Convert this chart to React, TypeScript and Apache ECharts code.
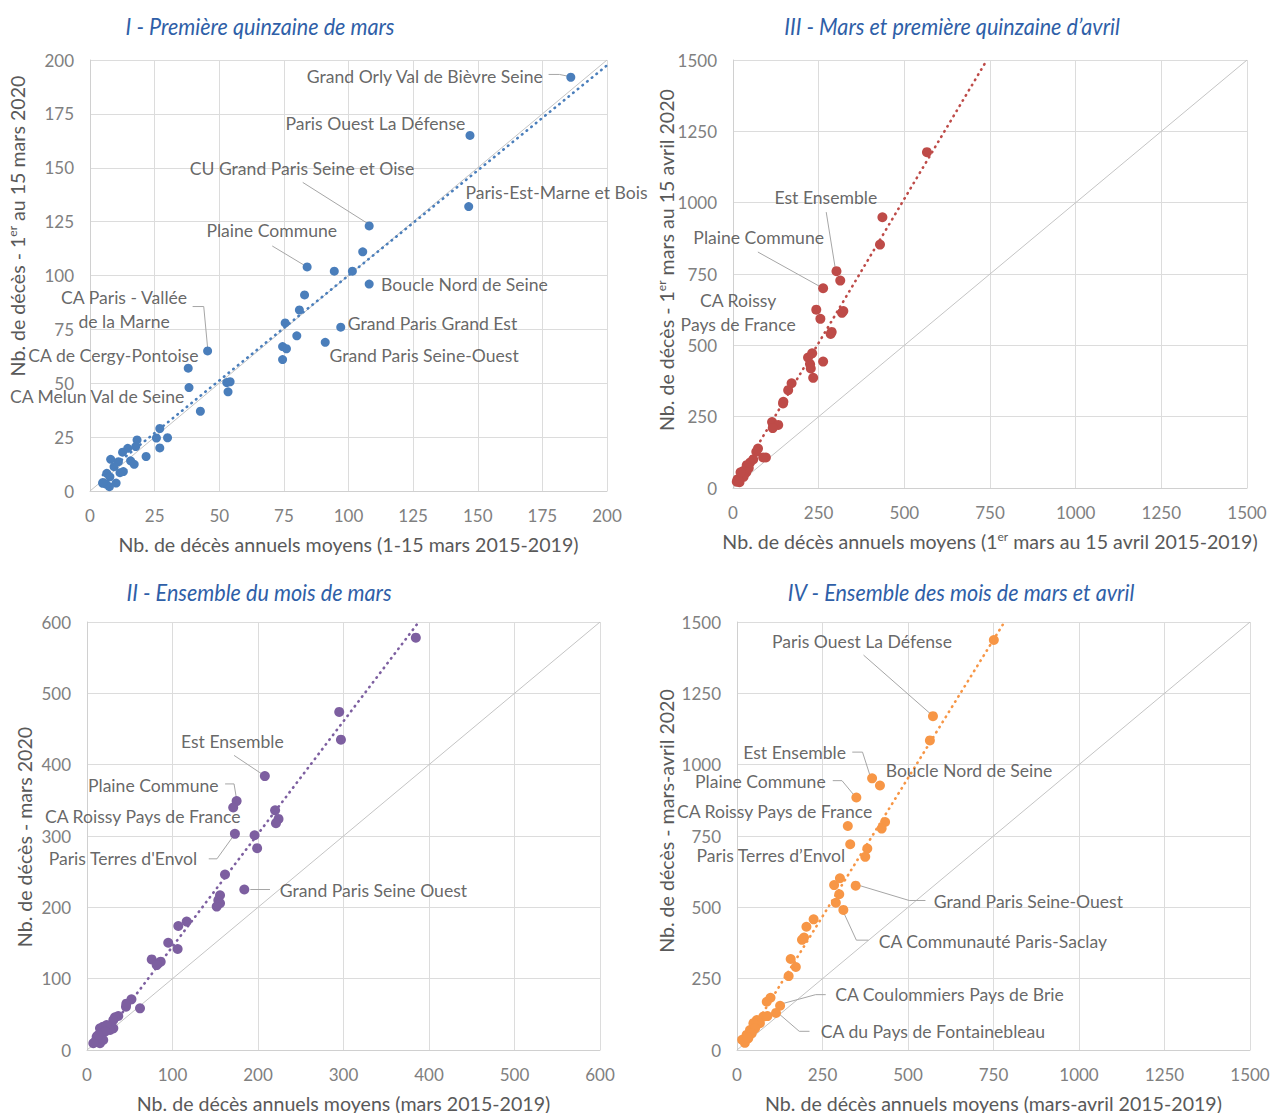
import React, { useEffect, useRef } from 'react';
import * as echarts from 'echarts';

// ---------- Panel I : Première quinzaine de mars ----------
const pointsI: number[][] = [
  [186, 192], [147, 165], [146.5, 132], [108, 123], [105.5, 111], [84, 104], [94.5, 102], [101.5, 102],
  [108, 96], [83, 91], [81, 84], [75.5, 78], [97, 76], [80, 72], [91, 69], [74.5, 67], [76, 66], [74.5, 61],
  [45.5, 65], [38, 57], [38.3, 48], [52.9, 50.3], [54.2, 50.7], [53.4, 46], [42.7, 37], [27, 29], [25.7, 24.6],
  [30, 24.7], [27, 20], [18.2, 23.7], [17.7, 20.6], [21.7, 16], [14.6, 19.8], [12.6, 18], [15.7, 14],
  [17.1, 12.4], [8, 14.7], [11, 13.6], [9.3, 11.3], [6.5, 8.2], [11.6, 8.5], [12.9, 9], [4.9, 3.6], [7.5, 2],
  [10.1, 3.7], [7.7, 6.6], [6.2, 3.2], [5, 4],
];
const trendI: number[][] = [[5, 7.4], [200, 197.5]];
const labelsI = [
  { name: 'Grand Orly Val de Bièvre Seine', at: [175.2, 192.5], pos: 'left' },
  { name: 'Paris Ouest La Défense', at: [145.2, 170.6], pos: 'left' },
  { name: 'CU Grand Paris Seine et Oise', at: [82, 149.7], pos: 'inside' },
  { name: 'Paris-Est-Marne et Bois', at: [145.2, 138.6], pos: 'right' },
  { name: 'Plaine Commune', at: [70.3, 120.7], pos: 'inside' },
  { name: 'Boucle Nord de Seine', at: [112.6, 95.9], pos: 'right' },
  { name: 'Grand Paris Grand Est', at: [99.7, 77.5], pos: 'right' },
  { name: 'Grand Paris Seine-Ouest', at: [92.6, 63.1], pos: 'right' },
  { name: 'CA Paris - Vallée\nde la Marne', at: [13.2, 84.4], pos: 'inside' },
  { name: 'CA de Cergy-Pontoise', at: [42, 63.1], pos: 'left' },
  { name: 'CA Melun Val de Seine', at: [36.5, 43.7], pos: 'left' },
];
const leadersI: number[][][] = [
  [[177.4, 193.3], [181.6, 193.3], [186, 192.2]],
  [[82.3, 143.2], [107.6, 124]],
  [[70.5, 113.7], [83.1, 104.6]],
  [[39.7, 85.6], [44, 85.6], [45.6, 65.1]],
];

// ---------- Panel III : Mars et première quinzaine d'avril ----------
const pointsIII: number[][] = [
  [566, 1177], [436, 949], [429, 853], [302, 760], [313, 727], [263, 700], [243, 625], [255, 593],
  [322, 620], [318, 614], [288, 547], [285, 540], [219, 457], [231, 472], [225, 434], [227, 419],
  [263, 443], [234, 386], [171, 367], [161, 343], [147, 302], [146, 296], [114, 231], [132, 221],
  [116, 210], [73, 138], [68, 127], [96, 107], [88, 107], [59, 100], [50, 89], [40, 80], [46, 70],
  [31, 60], [39, 55], [25, 45], [30, 51], [31, 39], [13, 30], [19, 20], [11, 22], [15, 28], [22, 55],
];
const trendIII: number[][] = [[8, 20], [741, 1500]];
const labelsIII = [
  { name: 'Est Ensemble', at: [271, 1017], pos: 'inside' },
  { name: 'Plaine Commune', at: [75, 877], pos: 'inside' },
  { name: 'CA Roissy\nPays de France', at: [15, 614], pos: 'inside' },
];
const leadersIII: number[][][] = [
  [[272, 967], [299, 766]],
  [[72.6, 827], [257, 704]],
];

// ---------- Panel II : Ensemble du mois de mars ----------
const pointsII: number[][] = [
  [384.6, 578], [295, 474], [297, 435], [208, 384], [175, 349], [171, 340], [220, 336], [224, 324],
  [221, 318], [173, 303], [196, 301], [199, 283], [161.4, 246], [184, 225], [155.6, 217], [153.6, 210],
  [155.6, 205.7], [151.7, 201], [116.6, 180], [106.8, 173.8], [95, 150.4], [106, 141.6], [75.7, 127],
  [83.4, 121.5], [86.2, 123.8], [81.5, 119], [52, 71], [45.6, 60.7], [46, 65], [62, 58.4], [36.6, 47.7],
  [32.7, 45.8], [30.8, 42], [30.8, 30.4], [27, 28], [19, 32.7], [15.2, 30.4], [23, 35], [17, 23.4],
  [21, 25.7], [11.3, 18.7], [9.4, 11.6], [15.2, 9.4], [7.4, 9.4], [19, 14], [13.2, 21],
];
const trendII: number[][] = [[12, 6], [388, 600]];
const labelsII = [
  { name: 'Est Ensemble', at: [170, 432], pos: 'inside' },
  { name: 'Plaine Commune', at: [154, 371], pos: 'left' },
  { name: 'CA Roissy Pays de France', at: [179.6, 327.6], pos: 'left' },
  { name: "Paris Terres d'Envol", at: [129, 268], pos: 'left' },
  { name: 'Grand Paris Seine Ouest', at: [225.5, 224], pos: 'right' },
];
const leadersII: number[][][] = [
  [[172, 413], [204.5, 387]],
  [[161.5, 373], [172, 373], [175, 351]],
  [[142.4, 268], [152, 268], [170, 298]],
  [[191, 225], [214, 225]],
];

// ---------- Panel IV : Ensemble des mois de mars et avril ----------
const pointsIV: number[][] = [
  [751, 1437], [573, 1170], [564, 1085], [395, 952], [418, 927], [349, 885], [324, 785], [433, 799],
  [423, 776], [331, 721], [381, 706], [375, 677], [301, 602], [284, 578], [347, 576], [299, 546],
  [289, 516], [311, 491], [224, 458], [203, 432], [196, 394], [190, 386], [157, 319], [172, 291],
  [151, 259], [98, 183], [87, 169], [126, 155], [114, 130], [77, 117], [89, 119], [58, 105], [67, 94],
  [48, 94], [38, 70], [53, 76], [28, 53], [19, 35], [33, 41], [43, 58], [23, 25], [15, 36], [30, 45],
];
const trendIV: number[][] = [[20, 22], [782, 1500]];
const labelsIV = [
  { name: 'Paris Ouest La Défense', at: [365.5, 1432], pos: 'inside' },
  { name: 'Est Ensemble', at: [319, 1044], pos: 'left' },
  { name: 'Boucle Nord de Seine', at: [434.5, 980], pos: 'right' },
  { name: 'Plaine Commune', at: [259.5, 940], pos: 'left' },
  { name: 'CA Roissy Pays de France', at: [396, 837], pos: 'left' },
  { name: 'Paris Terres d\u2019Envol', at: [316.7, 681], pos: 'left' },
  { name: 'Grand Paris Seine-Ouest', at: [575, 521], pos: 'right' },
  { name: 'CA Communauté Paris-Saclay', at: [414, 381], pos: 'right' },
  { name: 'CA Coulommiers Pays de Brie', at: [287, 194], pos: 'right' },
  { name: 'CA du Pays de Fontainebleau', at: [245, 65.5], pos: 'right' },
];
const leadersIV: number[][][] = [
  [[370, 1384], [565, 1179]],
  [[337, 1044], [367, 1044], [390, 958]],
  [[280, 944], [307, 944], [345, 889]],
  [[351, 579], [503.6, 524], [551, 524]],
  [[309.5, 488], [349, 385], [384.5, 385]],
  [[134.5, 163], [230, 194], [259.5, 194]],
  [[122.6, 127], [182, 65.5], [212, 65.5]],
];

const axisMaxes = [200, 1500, 600, 1500];
const axisIntervals = [25, 250, 100, 250];
const xNames = [
  'Nb. de décès annuels moyens (1-15 mars 2015-2019)',
  'Nb. de décès annuels moyens (1{sup|er} mars au 15 avril 2015-2019)',
  'Nb. de décès annuels moyens (mars 2015-2019)',
  'Nb. de décès annuels moyens (mars-avril 2015-2019)',
];
const yNames = [
  'Nb. de décès - 1{sup|er} au 15 mars 2020',
  'Nb. de décès - 1{sup|er} mars au 15 avril 2020',
  'Nb. de décès - mars 2020',
  'Nb. de décès - mars-avril 2020',
];
const COLORS = ['#4a7ebb', '#be4b48', '#7d5fa0', '#f79646'];

const FONT = 'Lato, "Open Sans", sans-serif';
const TITLE_FONT = 'Lato, sans-serif';

export default function App() {
  const ref = useRef<HTMLDivElement>(null);
  useEffect(() => {
    if (!ref.current) return;
    const chart = echarts.init(ref.current, null, { renderer: 'svg' });

    const grids = [
      { left: 90, top: 60, width: 517, height: 431 },
      { left: 733, top: 60, width: 514, height: 428 },
      { left: 87, top: 622, width: 513, height: 428 },
      { left: 737, top: 622, width: 513, height: 428 },
    ];
    const panels = [
      { pts: pointsI, trend: trendI, labels: labelsI, leaders: leadersI, size: 9 },
      { pts: pointsIII, trend: trendIII, labels: labelsIII, leaders: leadersIII, size: 10 },
      { pts: pointsII, trend: trendII, labels: labelsII, leaders: leadersII, size: 10 },
      { pts: pointsIV, trend: trendIV, labels: labelsIV, leaders: leadersIV, size: 10 },
    ];

    const supRich = {
      sup: { fontSize: 12, fontFamily: FONT, color: '#595959', verticalAlign: 'top', lineHeight: 22 },
    };

    const xAxis = grids.map((_, i) => ({
      type: 'value',
      gridIndex: i,
      min: 0,
      max: axisMaxes[i],
      interval: axisIntervals[i],
      name: xNames[i],
      nameLocation: 'middle',
      nameGap: 42,
      nameTextStyle: { color: '#595959', fontSize: 19.6, fontFamily: FONT, lineHeight: 22, rich: supRich },
      axisLine: { show: true, lineStyle: { color: '#d0d0d0', width: 1 } },
      axisTick: { show: false },
      axisLabel: {
        color: '#808080', fontSize: 17, fontFamily: FONT, margin: 16, showMinLabel: true, showMaxLabel: true,
        formatter: (v: number) => String(v),
      },
      splitLine: { show: true, lineStyle: { color: '#dcdcdc', width: 1 } },
    }));
    const yAxis = grids.map((_, i) => ({
      type: 'value',
      gridIndex: i,
      min: 0,
      max: axisMaxes[i],
      interval: axisIntervals[i],
      axisLine: { show: true, lineStyle: { color: '#d0d0d0', width: 1 } },
      axisTick: { show: false },
      axisLabel: {
        color: '#808080', fontSize: 17, fontFamily: FONT, margin: 16, showMinLabel: true, showMaxLabel: true,
        formatter: (v: number) => String(v),
      },
      splitLine: { show: true, lineStyle: { color: '#dcdcdc', width: 1 } },
    }));

    const series: any[] = [];
    panels.forEach((p, i) => {
      const m = axisMaxes[i];
      series.push({
        type: 'line', xAxisIndex: i, yAxisIndex: i, data: [[0, 0], [m, m]], symbol: 'none', silent: true, z: 1,
        lineStyle: { color: '#c4c4c4', width: 1 },
      });
      series.push({
        type: 'line', xAxisIndex: i, yAxisIndex: i, data: p.trend, symbol: 'none', silent: true, z: 2,
        lineStyle: { color: COLORS[i], width: 2.6, type: [0.5, 5.5], cap: 'round' },
      });
      p.leaders.forEach((ld) => {
        series.push({
          type: 'line', xAxisIndex: i, yAxisIndex: i, data: ld, symbol: 'none', silent: true, z: 2,
          lineStyle: { color: '#a6a6a6', width: 1 },
        });
      });
      series.push({
        type: 'scatter', xAxisIndex: i, yAxisIndex: i, data: p.pts, symbolSize: p.size, silent: true, z: 3,
        itemStyle: { color: COLORS[i], opacity: 1 },
      });
      series.push({
        type: 'scatter', xAxisIndex: i, yAxisIndex: i, symbolSize: 0.1, silent: true, z: 4,
        itemStyle: { color: 'rgba(0,0,0,0)' },
        data: p.labels.map((l) => ({ name: l.name, value: l.at, label: { position: l.pos } })),
        label: {
          show: true, formatter: '{b}', distance: 0, color: '#404040', fontSize: 17.6, fontFamily: FONT, lineHeight: 24,
        },
      });
    });

    const TS = 24;
    const titleStyle = { fontSize: TS, fontStyle: 'italic', fontFamily: TITLE_FONT, fill: '#2f5fa8', align: 'center', verticalAlign: 'middle' };
    const yNameStyle = { fontSize: 19.6, fontFamily: FONT, fill: '#595959', align: 'center', verticalAlign: 'middle', lineHeight: 22, rich: supRich };
    const SX = 0.9;

    const graphic = [
      { type: 'text', x: 260, y: 26, scaleX: SX, style: { ...titleStyle, text: 'I - Première quinzaine de mars' } },
      {
        type: 'text', x: 952, y: 26, scaleX: SX,
        style: {
          ...titleStyle, text: '{a|III - Mars et} {b|première quinzaine d\u2019avril}',
          rich: {
            a: { fontSize: TS, fontStyle: 'italic', fontFamily: TITLE_FONT, color: '#2b5599' },
            b: { fontSize: TS, fontStyle: 'italic', fontFamily: TITLE_FONT, color: '#4472c4' },
          },
        },
      },
      { type: 'text', x: 259, y: 592, scaleX: SX, style: { ...titleStyle, text: 'II - Ensemble du mois de mars' } },
      { type: 'text', x: 961, y: 592, scaleX: SX, style: { ...titleStyle, text: 'IV - Ensemble des mois de mars et avril' } },
      { type: 'text', x: 17, y: 226, rotation: Math.PI / 2, style: { ...yNameStyle, text: yNames[0] } },
      { type: 'text', x: 666, y: 260, rotation: Math.PI / 2, style: { ...yNameStyle, text: yNames[1] } },
      { type: 'text', x: 24, y: 837, rotation: Math.PI / 2, style: { ...yNameStyle, text: yNames[2] } },
      { type: 'text', x: 666, y: 821, rotation: Math.PI / 2, style: { ...yNameStyle, text: yNames[3] } },
    ];

    chart.setOption({
      animation: false,
      backgroundColor: '#ffffff',
      grid: grids.map((g) => ({ ...g, containLabel: false, outerBoundsMode: 'none' })),
      xAxis,
      yAxis,
      series,
      graphic,
    });
    return () => chart.dispose();
  }, []);
  return <div ref={ref} style={{ position: 'absolute', left: 0, top: 0, width: 1279, height: 1113 }} />;
}
